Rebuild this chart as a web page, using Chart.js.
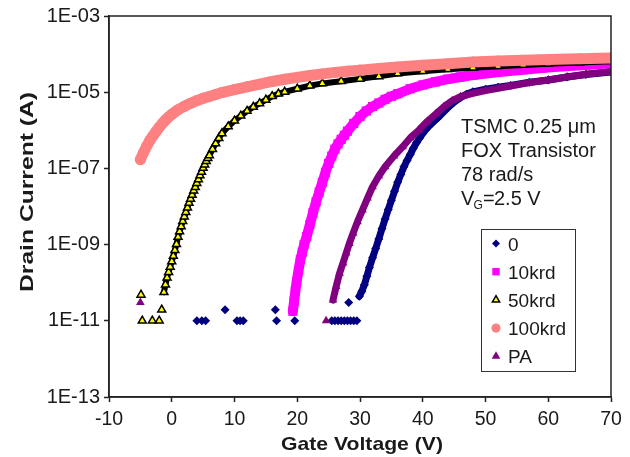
<!DOCTYPE html>
<html><head><meta charset="utf-8">
<script src="https://cdn.jsdelivr.net/npm/chart.js@4.4.1/dist/chart.umd.min.js"></script>
<style>html,body{margin:0;padding:0;background:#fff;}canvas{display:block;}</style>
</head><body>
<canvas id="c" width="630" height="457"></canvas>
<script>
// ---------- data ----------
const seriesNames = ['0', '10krd', '50krd', '100krd', 'PA'];

// series "0" (pre-irradiation)
const v_0 = [29.9,30.3,30.7,31.1,31.5,32.0,32.5,33.0,33.5,34.0,34.5,35.0,35.5,36.0,36.5,37.0,37.5,38.0,38.5,39.0,39.5,40.0,40.5,41.0,41.5,42.0,42.5,43.0,44.0,45.0,46.0,47.0,48.0,50.0,52.0,54.0,57.0,60.0,63.0,66.0,70.0];
const i_0 = [4.4e-11,6.0e-11,8.9e-11,1.48e-10,2.5e-10,4.5e-10,7.9e-10,1.41e-9,2.6e-9,4.7e-9,8.3e-9,1.45e-8,2.5e-8,4.3e-8,6.9e-8,1.1e-7,1.62e-7,2.3e-7,3.4e-7,4.7e-7,6.3e-7,8.3e-7,1.05e-6,1.29e-6,1.55e-6,1.86e-6,2.2e-6,2.7e-6,3.9e-6,5.5e-6,7.2e-6,8.9e-6,1.02e-5,1.2e-5,1.35e-5,1.51e-5,1.82e-5,2.1e-5,2.5e-5,2.9e-5,3.4e-5];
const v_0_floor = [4.0,4.8,5.4,8.5,10.4,10.9,11.4,16.5,16.7,19.6,25.5,26.0,26.5,27.0,27.5,28.0,28.2,28.5,29.0,29.5];
const i_0_floor = [1e-11,1e-11,1e-11,1.95e-11,1e-11,1e-11,1e-11,1.95e-11,1e-11,1e-11,1e-11,1e-11,1e-11,1e-11,1e-11,1e-11,3.0e-11,1e-11,1e-11,1e-11];

// series "10krd"
const v_10 = [19.3,19.5,19.7,19.9,20.2,20.5,20.8,21.1,21.5,22.0,22.5,23.0,23.5,24.0,24.5,25.0,25.5,26.0,26.5,27.0,27.5,28.0,29.0,30.0,31.0,32.0,33.0,34.0,35.0,36.0,38.0,40.0,42.0,44.0,46.0,48.0,50.0,53.0,56.0,59.0,62.0,66.0,70.0];
const i_10 = [1.78e-11,3.3e-11,6.0e-11,1.07e-10,2.1e-10,4.0e-10,6.3e-10,1.0e-9,1.62e-9,3.3e-9,6.8e-9,1.32e-8,2.4e-8,4.3e-8,7.9e-8,1.35e-7,2.1e-7,3.2e-7,4.4e-7,5.8e-7,7.4e-7,9.5e-7,1.51e-6,2.3e-6,3.2e-6,4.2e-6,5.2e-6,6.5e-6,7.8e-6,9.1e-6,1.23e-5,1.55e-5,1.86e-5,2.2e-5,2.5e-5,2.8e-5,3.1e-5,3.5e-5,3.9e-5,4.3e-5,4.7e-5,5.2e-5,5.8e-5];

// series "50krd"
const v_50 = [-1.25,-1.0,-0.75,-0.5,-0.25,0.0,0.25,0.5,0.75,1.0,1.25,1.5,1.75,2.0,2.25,2.5,2.75,3.0,3.25,3.5,3.75,4.0,4.25,4.5,4.75,5.0,5.25,5.5,5.75,6.0,6.5,7.0,7.5,8.0,9,10,11,12,13,14,15,16,17,18,20,22,24,27,30,33,36,40,44,48,52,56,60,65,70];
const i_50 = [5.6e-11,8.9e-11,1.35e-10,1.9e-10,2.6e-10,3.6e-10,5.0e-10,7.1e-10,1.02e-9,1.58e-9,2.2e-9,3.0e-9,4.1e-9,5.4e-9,7.1e-9,9.3e-9,1.23e-8,1.58e-8,2.0e-8,2.6e-8,3.2e-8,4.1e-8,5.1e-8,6.5e-8,8.1e-8,1.02e-7,1.26e-7,1.55e-7,1.86e-7,2.2e-7,3.2e-7,4.5e-7,6.2e-7,8.3e-7,1.26e-6,1.78e-6,2.4e-6,3.2e-6,4.1e-6,5.1e-6,6.3e-6,7.8e-6,9.1e-6,1.02e-5,1.23e-5,1.48e-5,1.7e-5,1.95e-5,2.24e-5,2.6e-5,3.1e-5,3.55e-5,4.0e-5,4.4e-5,4.8e-5,5.2e-5,5.6e-5,6.0e-5,6.5e-5];
const v_50_floor = [-4.9,-4.7,-3.1,-2.0,-1.6];
const i_50_floor = [4.8e-11,1e-11,1e-11,1e-11,1.95e-11];

// series "100krd"
const v_100 = [-5,-4.5,-4,-3.5,-3,-2.5,-2,-1.5,-1,-0.5,0,1,2,3,4,5,6,7,8,10,12,14,16,18,20,22,24,26,28,30,33,36,40,44,48,52,56,60,65,70];
const i_100 = [1.7e-7,2.6e-7,3.8e-7,5.4e-7,7.1e-7,9.3e-7,1.2e-6,1.51e-6,1.86e-6,2.24e-6,2.63e-6,3.47e-6,4.27e-6,5.13e-6,6.03e-6,6.92e-6,7.76e-6,8.71e-6,9.77e-6,1.17e-5,1.38e-5,1.62e-5,1.91e-5,2.19e-5,2.45e-5,2.75e-5,3.02e-5,3.31e-5,3.55e-5,3.8e-5,4.17e-5,4.57e-5,5.13e-5,5.62e-5,6.17e-5,6.61e-5,6.92e-5,7.24e-5,7.59e-5,7.94e-5];

// series "PA"
const v_pa = [25.7,26.2,26.75,27.3,27.8,28.3,28.9,29.6,30.4,31.2,32.0,33.0,34.0,35.4,36.8,38.0,39.4,40.7,42.1,43.4,44.7,46,48,50,52,54,57,60,63,66,70];
const i_pa = [3.5e-11,7.9e-11,1.78e-10,3.3e-10,6.0e-10,1.07e-9,2.0e-9,4.0e-9,8.1e-9,1.66e-8,3.3e-8,6.3e-8,1.1e-7,2.1e-7,3.7e-7,6.3e-7,1.02e-6,1.7e-6,2.7e-6,4.2e-6,6.0e-6,7.6e-6,9.3e-6,1.1e-5,1.26e-5,1.45e-5,1.78e-5,2.1e-5,2.5e-5,2.95e-5,3.5e-5];
const v_pa_floor = [-5, 24.6];
const i_pa_floor = [3.0e-11, 1e-11];

// axes
const xTickValues = [-10,0,10,20,30,40,50,60,70];
const xTickLabels = ['-10','0','10','20','30','40','50','60','70'];
const yTickValues = [1e-13,1e-11,1e-9,1e-7,1e-5,1e-3];
const yTickLabels = ['1E-13','1E-11','1E-09','1E-07','1E-05','1E-03'];
const xTitle = 'Gate Voltage (V)';
const yTitle = 'Drain Current (A)';
const noteLines = ['TSMC 0.25 \u03BCm', 'FOX Transistor', '78 rad/s'];
const noteVG = ['V', 'G', '=', '2.5 V'];

// ---------- chart ----------
const FONT = "'Liberation Sans', Arial, sans-serif";
const INK = '#1a1a1a';
const pts = (xs, ys) => xs.map((x, k) => ({x: x, y: ys[k]}));

const st = {
  '0':      {line:'#000080', lw:7,  ps:'rectRot',  r:4.5, fill:'#000080', bc:'#000080', bw:0},
  '10krd':  {line:'#FF00FF', lw:10, ps:'rect',     r:6.5, fill:'#FF00FF', bc:'#FF00FF', bw:0},
  '50krd':  {line:'#000000', lw:6,  ps:'triangle', r:4.6, fill:'#FFFF00', bc:'#000000', bw:1.5},
  '100krd': {line:'#FF8080', lw:11, ps:'circle',   r:5.5, fill:'#FF8080', bc:'#FF8080', bw:0},
  'PA':     {line:'#800080', lw:7,  ps:'triangle', r:5,   fill:'#800080', bc:'#800080', bw:0}
};
function ds(name, xs, ys, curve, order) {
  const s = st[name];
  return {
    label: name, data: pts(xs, ys), showLine: curve, order: order, clip: 0,
    borderColor: s.line, borderWidth: curve ? s.lw : 0, borderJoinStyle: 'round', borderCapStyle: 'round',
    pointStyle: s.ps, pointRadius: s.r, pointBackgroundColor: s.fill, pointBorderColor: s.bc,
    pointBorderWidth: s.bw, backgroundColor: s.fill, tension: 0
  };
}

const datasets = [
  ds('0', v_0, i_0, true, 9),
  ds('10krd', v_10, i_10, true, 7),
  ds('50krd', v_50, i_50, true, 5),
  ds('100krd', v_100, i_100, true, 3),
  ds('PA', v_pa, i_pa, true, 1),
  ds('0', v_0_floor, i_0_floor, false, 8),
  ds('50krd', v_50_floor, i_50_floor, false, 4),
  ds('PA', v_pa_floor, i_pa_floor, false, 0)
];

function marker(ctx, name, x, y, r) {
  const s = st[name];
  ctx.save();
  ctx.fillStyle = s.fill; ctx.strokeStyle = s.bc; ctx.lineWidth = s.bw;
  if (Chart.helpers && Chart.helpers.drawPoint) {
    Chart.helpers.drawPoint(ctx, {pointStyle: s.ps, radius: r, borderWidth: s.bw, rotation: 0}, x, y);
  } else {
    ctx.beginPath(); ctx.arc(x, y, r, 0, Math.PI * 2); ctx.fill();
  }
  ctx.restore();
}

const decor = {
  id: 'decor',
  afterDraw(chart) {
    const ctx = chart.ctx, a = chart.chartArea;
    ctx.save();
    // plot frame
    ctx.strokeStyle = '#222'; ctx.lineWidth = 1.5;
    ctx.strokeRect(a.left, a.top, a.right - a.left, a.bottom - a.top);

    // annotation
    ctx.fillStyle = INK; ctx.textAlign = 'left'; ctx.textBaseline = 'alphabetic';
    ctx.font = '20px ' + FONT;
    ctx.fillText(noteLines[0], 461, 133);
    ctx.fillText(noteLines[1], 461, 157);
    ctx.fillText(noteLines[2], 461, 181);
    ctx.fillText(noteVG[0], 461, 205);
    ctx.font = '12px ' + FONT;
    ctx.fillText(noteVG[1], 473.5, 209);
    ctx.font = '20px ' + FONT;
    ctx.fillText(noteVG[2], 483, 205);
    ctx.fillText(noteVG[3], 494, 205);

    // legend
    ctx.fillStyle = '#fff';
    ctx.fillRect(481.5, 229.5, 94, 142);
    ctx.strokeStyle = '#333'; ctx.lineWidth = 1;
    ctx.strokeRect(481.5, 229.5, 94, 142);
    const legR = {'0': 4, '10krd': 5.2, '50krd': 4.2, '100krd': 4.6, 'PA': 5};
    seriesNames.forEach((n, k) => {
      const cy = 243.5 + k * 28.2;
      marker(ctx, n, 496, cy, legR[n]);
      ctx.fillStyle = INK; ctx.font = '19px ' + FONT;
      ctx.textAlign = 'left'; ctx.textBaseline = 'alphabetic';
      ctx.fillText(n, 508, cy + 7);
    });

    // axis titles
    ctx.fillStyle = INK; ctx.font = 'bold 19px ' + FONT;
    ctx.textAlign = 'center'; ctx.textBaseline = 'alphabetic';
    let w = ctx.measureText(xTitle).width;
    ctx.save(); ctx.translate(362, 450); ctx.scale(162 / w, 1);
    ctx.fillText(xTitle, 0, 0); ctx.restore();
    w = ctx.measureText(yTitle).width;
    ctx.save(); ctx.translate(33, 192); ctx.rotate(-Math.PI / 2); ctx.scale(200 / w, 1);
    ctx.fillText(yTitle, 0, 0); ctx.restore();
    ctx.restore();
  }
};

new Chart(document.getElementById('c'), {
  type: 'scatter',
  data: {datasets: datasets},
  plugins: [decor],
  options: {
    responsive: false, animation: false, events: [], devicePixelRatio: 1,
    layout: {padding: {left: 0, right: 19, top: 16, bottom: 0}},
    plugins: {legend: {display: false}, tooltip: {enabled: false}},
    scales: {
      x: {
        type: 'linear', min: -10, max: 70,
        afterBuildTicks: s => { s.ticks = xTickValues.map(v => ({value: v})); },
        afterFit: s => { s.height = 60; },
        ticks: {callback: (v, i) => xTickLabels[i], font: {family: FONT, size: 19.5}, color: INK, padding: 6, maxRotation: 0, autoSkip: false},
        grid: {drawOnChartArea: false, drawTicks: true, tickLength: 5, tickWidth: 1.5, tickColor: '#222'},
        border: {display: true, color: '#222', width: 1.5}
      },
      y: {
        type: 'logarithmic', min: 1e-13, max: 1e-3,
        afterBuildTicks: s => { s.ticks = yTickValues.map(v => ({value: v})); },
        afterFit: s => { s.width = 109; },
        ticks: {callback: (v, i) => yTickLabels[i], font: {family: FONT, size: 20}, color: INK, padding: 4, autoSkip: false},
        grid: {drawOnChartArea: false, drawTicks: true, tickLength: 5, tickWidth: 1.5, tickColor: '#222'},
        border: {display: true, color: '#222', width: 1.5}
      }
    }
  }
});
</script>
</body></html>
